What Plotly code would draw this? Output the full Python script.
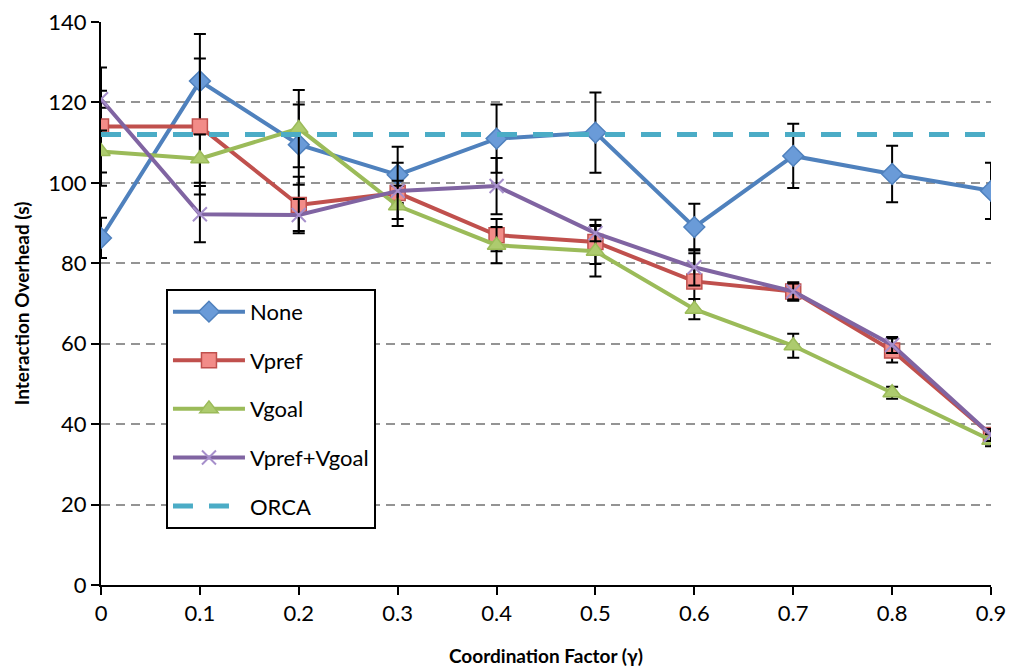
import plotly.graph_objects as go

# Coordination factor (gamma) on the x axis
gamma = [0, 0.1, 0.2, 0.3, 0.4, 0.5, 0.6, 0.7, 0.8, 0.9]
x_ticks = ["0", "0.1", "0.2", "0.3", "0.4", "0.5", "0.6", "0.7", "0.8", "0.9"]

# Interaction overhead (s) per strategy
none_vals = [86.3, 125.3, 109.5, 102.0, 111.0, 112.5, 89.0, 106.7, 102.2, 98.0]
vpref_vals = [114.0, 114.0, 94.5, 97.5, 87.0, 85.3, 75.5, 73.0, 58.3, 37.3]
vgoal_vals = [107.8, 106.0, 113.5, 94.3, 84.5, 83.0, 68.6, 59.5, 47.8, 36.0]
vboth_vals = [120.8, 92.2, 92.0, 98.0, 99.2, 87.5, 79.0, 73.0, 59.7, 37.3]
orca_vals = [112, 112, 112, 112, 112, 112, 112, 112, 112, 112]

# Standard deviations (error bars)
none_err = [5.0, 11.7, 10.0, 7.0, 8.5, 10.0, 5.8, 8.0, 7.0, 7.0]
vpref_err = [14.7, 16.9, 7.0, 3.0, 4.0, 5.5, 7.0, 2.3, 3.0, 1.5]
vgoal_err = [5.2, 6.0, 9.6, 5.0, 4.5, 6.3, 2.5, 3.0, 1.5, 1.5]
vboth_err = [2.1, 7.0, 4.0, 7.0, 7.0, 2.0, 4.5, 2.0, 2.0, 1.5]

FONT = "Lato"

def err(vals):
    return dict(type="data", array=vals, visible=True, color="black",
                thickness=2, width=6)

fig = go.Figure()

series = [
    ("None", none_vals, none_err, "#4F81BD", "diamond", "#6A9BD8", "#4F81BD", 16),
    ("Vpref", vpref_vals, vpref_err, "#C0504D", "square", "#F28C88", "#C0504D", 15),
    ("Vgoal", vgoal_vals, vgoal_err, "#9BBB59", "triangle-up", "#ADCB6E", "#9BBB59", 16),
    ("Vpref+Vgoal", vboth_vals, vboth_err, "#8064A2", "x-thin", "#A68FCB", "#A68FCB", 14),
]

for i, (name, vals, e, lc, sym, fill, mline, size) in enumerate(series):
    fig.add_trace(go.Scatter(
        x=gamma, y=vals, name=name, mode="lines+markers",
        line=dict(color=lc, width=4),
        marker=dict(symbol=sym, size=size, color=fill,
                    line=dict(color=mline, width=2 if sym == "x-thin" else 1.5)),
        error_y=err(e),
        legendgroup=f"g{i}",
    ))

fig.add_trace(go.Scatter(
    x=gamma, y=orca_vals, name="ORCA", mode="lines",
    line=dict(color="#4BACC6", width=5, dash="20px,16px"),
    legendgroup="g4",
))

fig.update_layout(
    width=1013, height=669,
    margin=dict(l=101, r=22, t=22, b=84),
    paper_bgcolor="white", plot_bgcolor="white",
    font=dict(family=FONT, size=18, color="black"),
    legend=dict(
        x=0.073, y=0.526, xanchor="left", yanchor="top",
        bgcolor="white", bordercolor="black", borderwidth=2,
        font=dict(family=FONT, size=22, color="black"),
        traceorder="grouped", tracegroupgap=17, itemwidth=72,
    ),
    xaxis=dict(
        range=[0, 0.9], tickmode="array", tickvals=gamma, ticktext=x_ticks,
        showgrid=False, zeroline=False, showline=True, linecolor="black", linewidth=2,
        ticks="outside", ticklen=8, tickwidth=1.5, tickcolor="black",
        tickfont=dict(family=FONT, size=22), automargin=False,
    ),
    yaxis=dict(
        range=[0, 140], tickmode="linear", tick0=0, dtick=20,
        showgrid=True, gridcolor="#949494", gridwidth=2, griddash="9px,6px",
        zeroline=False, showline=True, linecolor="black", linewidth=2,
        ticks="outside", ticklen=8, tickwidth=1.5, tickcolor="black",
        tickfont=dict(family=FONT, size=22), automargin=False,
    ),
    annotations=[
        dict(text="<b>Coordination Factor (γ)</b>", xref="paper", yref="paper",
             x=0.5, y=-0.125, xanchor="center", yanchor="middle", showarrow=False,
             font=dict(family=FONT, size=19)),
        dict(text="<b>Interaction Overhead (s)</b>", xref="paper", yref="paper",
             x=-0.089, y=0.5, xanchor="center", yanchor="middle", showarrow=False,
             textangle=-90, font=dict(family=FONT, size=19)),
    ],
)

fig.write_html("out.html")
